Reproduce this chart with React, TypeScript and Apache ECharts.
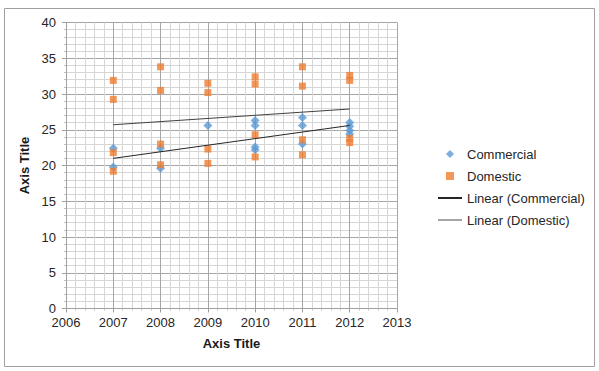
import React, { useEffect, useRef } from 'react';
import * as echarts from 'echarts';

const commercialYears = [2007, 2007, 2008, 2008, 2009, 2010, 2010, 2010, 2010, 2011, 2011, 2011, 2012, 2012, 2012, 2012];
const commercialValues = [22.4, 19.8, 22.4, 19.6, 25.6, 26.3, 25.6, 22.6, 22.2, 26.7, 25.6, 23.0, 26.0, 25.5, 24.9, 24.4];

const domesticYears = [
  2007, 2007, 2007, 2007,
  2008, 2008, 2008, 2008,
  2009, 2009, 2009, 2009,
  2010, 2010, 2010, 2010,
  2011, 2011, 2011, 2011,
  2012, 2012, 2012, 2012,
];
const domesticValues = [
  31.9, 29.25, 21.8, 19.2,
  33.8, 30.5, 23.0, 20.1,
  31.5, 30.2, 22.3, 20.3,
  32.4, 31.4, 24.3, 21.2,
  33.8, 31.1, 23.6, 21.5,
  32.6, 31.9, 23.8, 23.2,
];

const trendYears = [2007, 2012];
const commercialTrend = [21.0, 25.6];
const domesticTrend = [25.7, 27.9];

const xTicks = { min: 2006, max: 2013, interval: 1 };
const yTicks = { min: 0, max: 40, interval: 5 };

const FONT = "'Liberation Sans', Arial, sans-serif";

const pairs = (xs: number[], ys: number[]) => xs.map((x, i) => [x, ys[i]]);

export default function App() {
  const ref = useRef<HTMLDivElement>(null);
  useEffect(() => {
    document.body.style.margin = '0';
    if (!ref.current) return;
    const chart = echarts.init(ref.current, null, { renderer: 'svg' });
    const axisCommon = {
      type: 'value' as const,
      nameLocation: 'middle' as const,
      name: 'Axis Title',
      nameTextStyle: { fontFamily: FONT, fontSize: 13, fontWeight: 'bold', color: '#1a1a1a' },
      axisLine: { show: true, lineStyle: { color: '#a0a0a0', width: 1 } },
      axisTick: { show: true, length: 4, lineStyle: { color: '#a0a0a0' } },
      minorTick: { show: true, splitNumber: 5, length: 2, lineStyle: { color: '#c0c0c0' } },
      splitLine: { show: true, lineStyle: { color: '#a6a6a6', width: 1 } },
      minorSplitLine: { show: true, lineStyle: { color: '#d6d6d6', width: 1 } },
      axisLabel: { fontFamily: FONT, fontSize: 13, color: '#262626', formatter: (v: number) => String(v) },
    };
    chart.setOption({
      animation: false,
      grid: { left: 66, top: 22.5, right: 202, bottom: 62.5 },
      xAxis: {
        ...axisCommon,
        ...xTicks,
        nameGap: 28,
        axisLabel: { ...axisCommon.axisLabel, margin: 7 },
      },
      yAxis: {
        ...axisCommon,
        ...yTicks,
        nameGap: 30,
        axisLabel: { ...axisCommon.axisLabel, margin: 10 },
      },
      legend: {
        orient: 'vertical',
        left: 432,
        top: 142,
        itemWidth: 24,
        itemHeight: 8,
        itemGap: 8,
        selectedMode: false,
        textStyle: { fontFamily: FONT, fontSize: 13, color: '#262626', lineHeight: 14 },
        data: [
          { name: 'Commercial', icon: 'path://M0,-1L1,0L0,1L-1,0Z' },
          { name: 'Domestic', icon: 'path://M0,0L1,0L1,1L0,1Z' },
          { name: 'Linear (Commercial)', itemStyle: { opacity: 0 } },
          { name: 'Linear (Domestic)', itemStyle: { opacity: 0 }, lineStyle: { color: '#a6a6a6' } },
        ],
      },
      graphic: [
        {
          type: 'rect',
          shape: { x: 4.5, y: 8.5, width: 590, height: 358 },
          style: { fill: 'none', stroke: '#a0a0a0', lineWidth: 1 },
          silent: true,
        },
      ],
      series: [
        {
          name: 'Commercial',
          type: 'scatter',
          symbol: 'diamond',
          symbolSize: 9,
          itemStyle: { color: '#5B9BD5' },
          data: pairs(commercialYears, commercialValues),
        },
        {
          name: 'Domestic',
          type: 'scatter',
          symbol: 'rect',
          symbolSize: 7,
          itemStyle: { color: '#ED7D31' },
          data: pairs(domesticYears, domesticValues),
        },
        {
          name: 'Linear (Commercial)',
          type: 'line',
          symbol: 'none',
          lineStyle: { color: '#262626', width: 1 },
          itemStyle: { color: '#262626' },
          data: pairs(trendYears, commercialTrend),
        },
        {
          name: 'Linear (Domestic)',
          type: 'line',
          symbol: 'none',
          lineStyle: { color: '#404040', width: 1 },
          itemStyle: { color: '#404040' },
          data: pairs(trendYears, domesticTrend),
        },
      ],
    });
    return () => chart.dispose();
  }, []);
  return <div ref={ref} style={{ width: 599, height: 371 }} />;
}
